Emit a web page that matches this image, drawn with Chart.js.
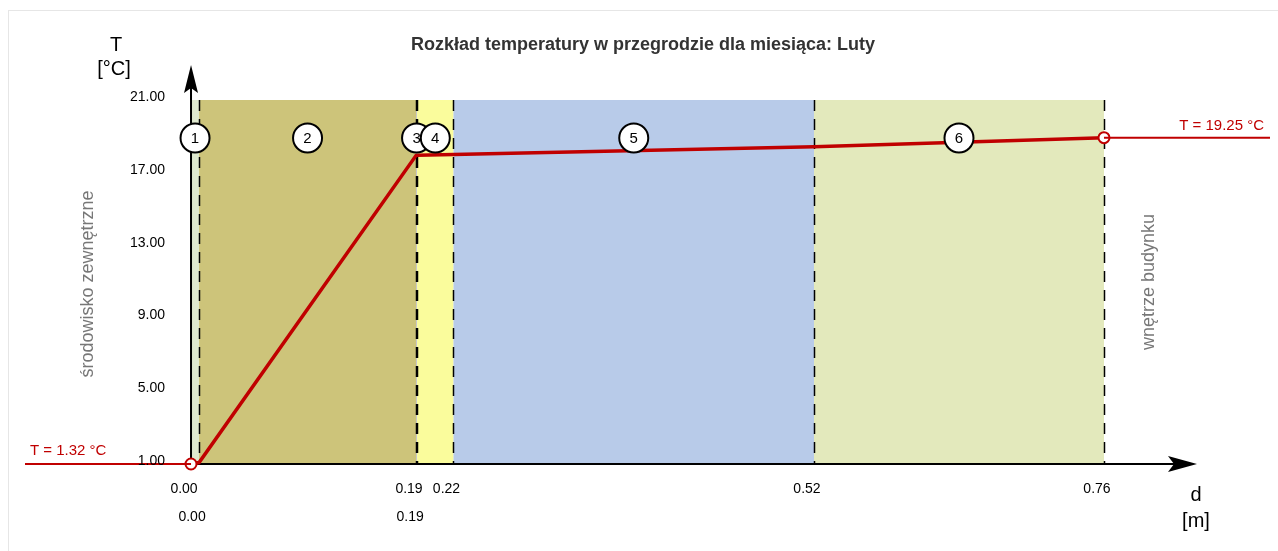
<!DOCTYPE html>
<html>
<head>
<meta charset="utf-8">
<script src="https://cdn.jsdelivr.net/npm/chart.js@4.4.1/dist/chart.umd.min.js"></script>
<style>
  body { margin: 0; background: #fff; }
  #frame { position: absolute; left: 8px; top: 10px; width: 1270px; height: 541px;
           border-top: 1px solid #e6e6e6; border-left: 1px solid #e6e6e6; }
  #mycanvas { position: absolute; left: 0; top: 0; }
</style>
</head>
<body>
<div id="frame"></div>
<canvas id="mycanvas" width="1278" height="551"></canvas>
<script>
// layer boundaries [m] and temperature at each boundary [°C]
var layerBounds = [0, 0.0067, 0.1873, 0.1882, 0.2185, 0.5186, 0.76];
var tempProfile = [1.32, 1.40, 18.27, 18.28, 18.33, 18.75, 19.25];
var layerNames = ['1', '2', '3', '4', '5', '6'];
var tOutside = 1.32;
var tInside = 19.25;

// tick labels
var yTickValues = [1.32, 5.32, 9.32, 13.32, 17.32, 21.32];
var yTickLabels = ['1.00', '5.00', '9.00', '13.00', '17.00', '21.00'];
var xTopIdx = [0, 2, 4, 5, 6];
var xTopLabels = ['0.00', '0.19', '0.22', '0.52', '0.76'];
var xBottomIdx = [1, 3];
var xBottomLabels = ['0.00', '0.19'];

var layerColors = ['#dfe9cf', '#cdc47a', '#c8c8c8', '#fafc9c', '#b8cbe9', '#e3e9bc'];
var red = '#c00000';
var FONT = 'Liberation Sans, Arial, sans-serif';

var xMin = -0.1382, xMax = 0.8982;
var yMin = 1.32, yMax = 21.32;

var profile = [];
for (var i = 0; i < layerBounds.length; i++) {
  profile.push({x: layerBounds[i], y: tempProfile[i]});
}
var last = layerBounds.length - 1;

var layersPlugin = {
  id: 'layers',
  beforeDatasetsDraw: function(chart) {
    var ctx = chart.ctx;
    var xs = chart.scales.x, ys = chart.scales.y;
    var top = ys.getPixelForValue(yMax), bottom = ys.getPixelForValue(yMin);
    ctx.save();
    // bands
    for (var i = 0; i < layerNames.length; i++) {
      var x1 = xs.getPixelForValue(layerBounds[i]);
      var x2 = xs.getPixelForValue(layerBounds[i + 1]);
      ctx.fillStyle = layerColors[i];
      ctx.fillRect(x1, top, x2 - x1, bottom - top);
    }
    // dashed boundaries
    ctx.strokeStyle = '#000';
    ctx.lineWidth = 1.5;
    ctx.setLineDash([11, 8]);
    for (var j = 1; j < layerBounds.length; j++) {
      var bx = Math.round(xs.getPixelForValue(layerBounds[j])) + 0.5;
      ctx.beginPath();
      ctx.moveTo(bx, top);
      ctx.lineTo(bx, bottom);
      ctx.stroke();
    }
    ctx.setLineDash([]);
    // axes with arrows
    var x0 = xs.getPixelForValue(0);
    ctx.lineWidth = 2;
    ctx.beginPath();
    ctx.moveTo(x0, bottom);
    ctx.lineTo(x0, 80);
    ctx.moveTo(x0, bottom);
    ctx.lineTo(1180, bottom);
    ctx.stroke();
    ctx.fillStyle = '#000';
    ctx.beginPath();
    ctx.moveTo(x0, 65);
    ctx.lineTo(x0 - 7, 93);
    ctx.lineTo(x0, 88);
    ctx.lineTo(x0 + 7, 93);
    ctx.closePath();
    ctx.fill();
    ctx.beginPath();
    ctx.moveTo(1197, bottom);
    ctx.lineTo(1168, bottom - 8);
    ctx.lineTo(1174, bottom);
    ctx.lineTo(1168, bottom + 8);
    ctx.closePath();
    ctx.fill();
    ctx.restore();
  },
  afterDatasetsDraw: function(chart) {
    var ctx = chart.ctx;
    var xs = chart.scales.x, ys = chart.scales.y;
    var top = ys.getPixelForValue(yMax);
    ctx.save();
    // layer number circles
    ctx.font = '15px ' + FONT;
    ctx.textAlign = 'center';
    ctx.textBaseline = 'middle';
    for (var i = 0; i < layerNames.length; i++) {
      var cx = (xs.getPixelForValue(layerBounds[i]) + xs.getPixelForValue(layerBounds[i + 1])) / 2;
      var cy = top + 38;
      ctx.beginPath();
      ctx.arc(cx, cy, 14.5, 0, Math.PI * 2);
      ctx.fillStyle = '#fff';
      ctx.fill();
      ctx.lineWidth = 2;
      ctx.strokeStyle = '#000';
      ctx.stroke();
      ctx.fillStyle = '#000';
      ctx.fillText(layerNames[i], cx, cy + 1);
    }
    // y tick labels
    ctx.font = '14px ' + FONT;
    ctx.textAlign = 'right';
    ctx.textBaseline = 'alphabetic';
    for (var k = 0; k < yTickLabels.length; k++) {
      ctx.fillText(yTickLabels[k], 165, ys.getPixelForValue(yTickValues[k]) + 1);
    }
    // x tick labels (two rows)
    ctx.textAlign = 'center';
    for (var a = 0; a < xTopLabels.length; a++) {
      ctx.fillText(xTopLabels[a], xs.getPixelForValue(layerBounds[xTopIdx[a]]) - 7, 493);
    }
    for (var b = 0; b < xBottomLabels.length; b++) {
      ctx.fillText(xBottomLabels[b], xs.getPixelForValue(layerBounds[xBottomIdx[b]]) - 7, 521);
    }
    // axis titles
    ctx.font = '20px ' + FONT;
    ctx.fillText('T', 116, 51);
    ctx.fillText('[°C]', 114, 75);
    ctx.fillText('d', 1196, 501);
    ctx.fillText('[m]', 1196, 527);
    // chart title
    ctx.font = 'bold 18px ' + FONT;
    ctx.fillStyle = '#333';
    ctx.fillText('Rozkład temperatury w przegrodzie dla miesiąca: Luty', 643, 50);
    // temperature notes
    ctx.font = '15px ' + FONT;
    ctx.fillStyle = red;
    ctx.textAlign = 'left';
    ctx.fillText('T = ' + tOutside.toFixed(2) + ' °C', 30, ys.getPixelForValue(tOutside) - 9);
    ctx.textAlign = 'right';
    ctx.fillText('T = ' + tInside.toFixed(2) + ' °C', 1264, ys.getPixelForValue(tInside) - 8);
    // side labels
    ctx.font = '18px ' + FONT;
    ctx.fillStyle = '#777';
    ctx.textAlign = 'center';
    ctx.textBaseline = 'middle';
    var midY = (top + ys.getPixelForValue(yMin)) / 2;
    ctx.save();
    ctx.translate(88, midY + 2);
    ctx.rotate(-Math.PI / 2);
    ctx.fillText('środowisko zewnętrzne', 0, 0);
    ctx.restore();
    ctx.translate(1149, midY);
    ctx.rotate(-Math.PI / 2);
    ctx.fillText('wnętrze budynku', 0, 0);
    ctx.restore();
  }
};

var ctx = document.getElementById('mycanvas');
var chart = new Chart(ctx, {
  type: 'scatter',
  data: {
    datasets: [
      {
        data: [{x: xMin, y: tOutside}, {x: 0, y: tOutside}],
        showLine: true, borderColor: red, backgroundColor: red,
        borderWidth: 2, pointRadius: 0, clip: false
      },
      {
        data: [{x: layerBounds[last], y: tInside}, {x: xMax, y: tInside}],
        showLine: true, borderColor: red, backgroundColor: red,
        borderWidth: 2, pointRadius: 0, clip: false
      },
      {
        data: profile,
        showLine: true,
        clip: false,
        borderColor: red,
        borderWidth: 3.5,
        pointRadius: profile.map(function(p, i) { return (i === 0 || i === last) ? 5.5 : 0; }),
        pointBackgroundColor: '#fff',
        pointBorderColor: red,
        pointBorderWidth: 2
      }
    ]
  },
  options: {
    responsive: false,
    animation: false,
    devicePixelRatio: 1,
    layout: { padding: { left: 25, right: 8, top: 100, bottom: 87 } },
    scales: {
      x: { type: 'linear', min: xMin, max: xMax, display: false },
      y: { type: 'linear', min: yMin, max: yMax, display: false }
    },
    plugins: {
      legend: { display: false },
      tooltip: { enabled: false },
      title: { display: false }
    }
  },
  plugins: [layersPlugin]
});
</script>
</body>
</html>
